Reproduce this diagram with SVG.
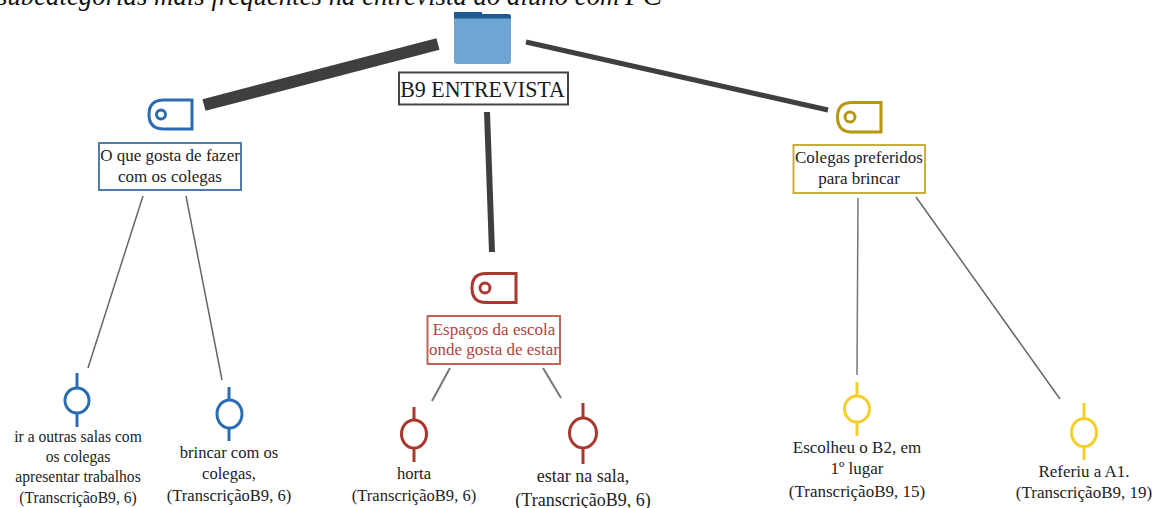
<svg xmlns="http://www.w3.org/2000/svg" width="1160" height="508" viewBox="0 0 1160 508">
<style>
text{font-family:"Liberation Serif","Times New Roman",serif;fill:#222;text-anchor:middle;font-size:17px}
.title{font-size:26.800px;font-style:italic;text-anchor:start;fill:#111}
.pc{font-size:29px;font-style:italic;text-anchor:start;fill:#111}
.head{font-size:24px;fill:#1a1a1a;transform:scaleX(.915);transform-box:fill-box;transform-origin:center}
.n1{transform:scaleX(.92);transform-box:fill-box;transform-origin:center}
.n2{transform:scaleX(.975);transform-box:fill-box;transform-origin:center}
.big{font-size:18px}
.red{fill:#b0443c}
.box{fill:#fff;stroke-width:2}
.tag,.pin{stroke-width:3;fill:none}
.c{stroke-linecap:butt;fill:none}
.blue{stroke:#2b6cb0}.darkred{stroke:#a8372e}.gold{stroke:#b8960f}.yellow{stroke:#f4cf2a}
</style>
<rect width="1160" height="508" fill="#fff"/>
<text class="title" x="-3" y="5">subcategorias mais frequentes na entrevista do aluno com</text>
<text class="pc" x="625" y="5">PC</text>
<g id="connectors">
<line class="c" x1="204" y1="105" x2="438" y2="44" stroke="#3f3f3f" stroke-width="12"/>
<line class="c" x1="526" y1="42" x2="828" y2="110" stroke="#3f3f3f" stroke-width="5"/>
<line class="c" x1="487" y1="112" x2="492" y2="252" stroke="#3f3f3f" stroke-width="6"/>
<line class="c" x1="143" y1="196" x2="88" y2="368" stroke="#666" stroke-width="1.5"/>
<line class="c" x1="186" y1="196" x2="222" y2="380" stroke="#666" stroke-width="1.5"/>
<line class="c" x1="450" y1="368" x2="432" y2="401" stroke="#777" stroke-width="2"/>
<line class="c" x1="543" y1="368" x2="561" y2="398" stroke="#777" stroke-width="2"/>
<line class="c" x1="858" y1="198" x2="857" y2="375" stroke="#777" stroke-width="1.5"/>
<line class="c" x1="916" y1="197" x2="1060" y2="399" stroke="#666" stroke-width="1.5"/>
</g>
<g id="root">
<path d="M454 12H482V14H508Q511 14 511 17V61Q511 64 508 64H457Q454 64 454 61Z" fill="#6fa5d3"/>
<path d="M454 12H482V14H508Q511 14 511 17V18.500H454Z" fill="#1f5a8f"/>
<rect class="box" x="399" y="72.500" width="169" height="32" stroke="#444"/>
<text class="head" x="482.500" y="97">B9 ENTREVISTA</text>
</g>
<g id="cat-colegas">
<path class="tag blue" d="M192 100V129H164Q149 129 149 114.500Q149 100 164 100Z"/>
<circle class="pin blue" cx="161" cy="114.500" r="4.500"/>
<rect class="box" x="99" y="143" width="142" height="47" stroke="#4f7cab"/>
<text x="170" y="161">O que gosta de fazer</text>
<text x="170" y="182">com os colegas</text>
</g>
<g id="cat-espacos">
<path class="tag darkred" d="M516 273.500V302.500H486Q472 302.500 472 288Q472 273.500 486 273.500Z"/>
<circle class="pin darkred" cx="485" cy="288" r="5"/>
<rect class="box" x="427.500" y="316" width="132.500" height="48" stroke="#c0645c"/>
<text class="red" x="494" y="335">Espaços da escola</text>
<text class="red" x="494" y="355">onde gosta de estar</text>
</g>
<g id="cat-preferidos">
<path class="tag gold" d="M881 102.500V132H852Q837.500 132 837.500 117Q837.500 102.500 852 102.500Z"/>
<circle class="pin gold" cx="850" cy="117" r="5"/>
<rect class="box" x="793.500" y="145" width="131.500" height="48" stroke="#c9ad3f"/>
<text x="859" y="163">Colegas preferidos</text>
<text x="859" y="184">para brincar</text>
</g>
<g id="leaf-outras-salas">
<path class="pin blue" d="M77 373V388M77 413V427"/>
<ellipse class="pin blue" cx="77" cy="400.500" rx="12" ry="12.500"/>
<text class="n1" x="78" y="442">ir a outras salas com</text>
<text class="n1" x="78" y="462">os colegas</text>
<text class="n1" x="78" y="482">apresentar trabalhos</text>
<text class="n1" x="78" y="503">(TranscriçãoB9, 6)</text>
</g>
<g id="leaf-brincar">
<path class="pin blue" d="M229 387V400M229 428V441"/>
<ellipse class="pin blue" cx="229.500" cy="414" rx="12.500" ry="14"/>
<text class="n2" x="229" y="458">brincar com os</text>
<text class="n2" x="229" y="479">colegas,</text>
<text class="n2" x="229" y="501">(TranscriçãoB9, 6)</text>
</g>
<g id="leaf-horta">
<path class="pin darkred" d="M414 407V420M414 448V462"/>
<ellipse class="pin darkred" cx="414" cy="434" rx="12.500" ry="14"/>
<text class="n2" x="414" y="479">horta</text>
<text class="n2" x="414" y="501">(TranscriçãoB9, 6)</text>
</g>
<g id="leaf-sala">
<path class="pin darkred" d="M583 403V418M583 448V464"/>
<ellipse class="pin darkred" cx="583" cy="433" rx="13.500" ry="15"/>
<text class="big" x="583" y="482">estar na sala,</text>
<text class="big" x="583" y="506">(TranscriçãoB9, 6)</text>
</g>
<g id="leaf-b2">
<path class="pin yellow" d="M857 382V396M857 422V436"/>
<ellipse class="pin yellow" cx="857" cy="409" rx="12.500" ry="13"/>
<text x="857" y="453">Escolheu o B2, em</text>
<text x="857" y="474">1º lugar</text>
<text x="857" y="497">(TranscriçãoB9, 15)</text>
</g>
<g id="leaf-a1">
<path class="pin yellow" d="M1084 403V418M1084 447V460"/>
<ellipse class="pin yellow" cx="1084" cy="432.500" rx="12.500" ry="14"/>
<text x="1084" y="477">Referiu a A1.</text>
<text x="1084" y="498">(TranscriçãoB9, 19)</text>
</g>
</svg>
